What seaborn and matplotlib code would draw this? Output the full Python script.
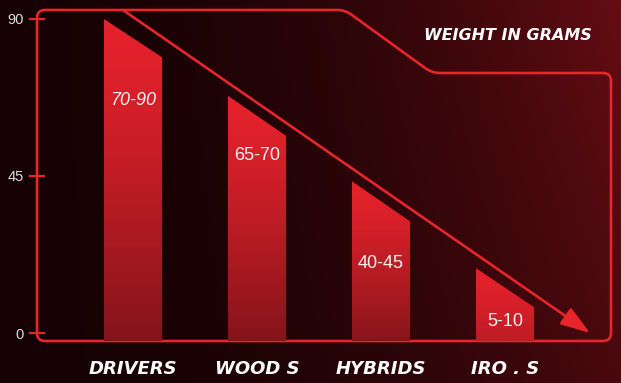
import numpy as np
import matplotlib
matplotlib.use("Agg")
import matplotlib.pyplot as plt
import seaborn as sns
import pandas as pd
from matplotlib.patches import Polygon, PathPatch
from matplotlib.path import Path

# ---------------- data ----------------
categories = ["DRIVERS", "WOOD S", "HYBRIDS", "IRO . S"]
bar_top_left = [90, 68, 43.5, 18.6]     # height of the tall (left) edge of each bar
bar_top_right = [79, 56.5, 32, 7.4]     # height of the cut (right) edge of each bar
range_labels = ["70-90", "65-70", "40-45", "5-10"]
y_ticks = [0, 45, 90]
title = "WEIGHT IN GRAMS"

# ---------------- style ----------------
sns.set_theme(style="white")
plt.rcParams["font.family"] = ["DejaVu Sans"]

RED = "#e8242c"
W, H = 621, 383
fig = plt.figure(figsize=(W / 100, H / 100), dpi=100)

# background gradient
bg = fig.add_axes([0, 0, 1, 1])
bg.set_axis_off()
xx = np.linspace(0, 1, 400)
yy = np.linspace(0, 1, 250)
X, Y = np.meshgrid(xx, yy)
f = X ** 2 * (1 - 0.35 * Y)
dark = np.array([22, 2, 4]) / 255
redbg = np.array([100, 13, 19]) / 255
img = dark + (redbg - dark) * f[..., None]
bg.imshow(img, extent=[0, 1, 0, 1], origin="upper", aspect="auto", zorder=0)
bg.set_xlim(0, 1)
bg.set_ylim(0, 1)


def rounded_path(pts, r):
    n = len(pts)
    verts, codes = [], []
    for i in range(n):
        p = np.array(pts[i], float)
        a = np.array(pts[i - 1], float)
        b = np.array(pts[(i + 1) % n], float)
        d1 = (a - p) / np.linalg.norm(a - p)
        d2 = (b - p) / np.linalg.norm(b - p)
        verts.append(p + d1 * r)
        codes.append(Path.MOVETO if i == 0 else Path.LINETO)
        verts += [p, p + d2 * r]
        codes += [Path.CURVE3, Path.CURVE3]
    verts.append(verts[0])
    codes.append(Path.CLOSEPOLY)
    verts = [(v[0] / W, 1 - v[1] / H) for v in verts]
    return Path(verts, codes)


frame_px = [(37, 10), (345, 10), (432, 73), (611, 73), (611, 341), (37, 341)]
bg.add_patch(PathPatch(rounded_path(frame_px, 8), facecolor="none",
                       edgecolor=RED, lw=1.9, zorder=3))

# main axes
ax = fig.add_axes([37 / W, 1 - 341 / H, 574 / W, 331 / H])
ax.patch.set_alpha(0)
df = pd.DataFrame({"category": categories, "height": bar_top_left})
sns.barplot(data=df, x="category", y="height", ax=ax, width=0.47,
            color=RED, zorder=2)
XL = (-0.774, 3.855)
YL = (-2.29, 92.55)
ax.set_xlim(*XL)
ax.set_ylim(*YL)

top_c = np.array([230, 34, 44]) / 255
bot_c = np.array([132, 20, 26]) / 255
for i, p in enumerate(list(ax.patches)):
    x0, w = p.get_x(), p.get_width()
    p.set_visible(False)
    tl, tr = bar_top_left[i], bar_top_right[i]
    ybot = YL[0]
    poly = Polygon([(x0, ybot), (x0, tl), (x0 + w, tr), (x0 + w, ybot)],
                   closed=True, facecolor="none", edgecolor="none")
    ax.add_patch(poly)
    k = min(1.0, tl / 45.0)
    bottom = top_c + (bot_c - top_c) * k
    t = np.linspace(0, 1, 200)[:, None] ** 1.3
    grad = (top_c + (bottom - top_c) * t)[:, None, :]
    im = ax.imshow(grad, extent=[x0, x0 + w, ybot, tl], origin="upper",
                   aspect="auto", zorder=2)
    im.set_clip_path(poly)

ax.set_xlim(*XL)
ax.set_ylim(*YL)

# range labels inside bars
label_y = [66.5, 51, 20, 3.4]
for i, lab in enumerate(range_labels):
    ax.text(i, label_y[i], lab, ha="center", va="center", color="#f2f2f2",
            fontsize=13, family="Liberation Sans",
            style="italic" if i == 0 else "normal", zorder=4)

# diagonal arrow
ax.annotate("", xy=(3.686, 0), xytext=(-0.081, YL[1]),
            arrowprops=dict(arrowstyle="-|>,head_length=1.5,head_width=0.5",
                            color=RED, lw=1.9, shrinkA=0, shrinkB=0),
            annotation_clip=False, zorder=3)

# axes styling
for s in ax.spines.values():
    s.set_visible(False)
ax.set_yticks(y_ticks)
ax.set_yticklabels([str(v) for v in y_ticks])
ax.tick_params(axis="y", direction="inout", length=11, width=1.5, color=RED,
               labelcolor="#dcdcdc", labelsize=10.5, pad=4, left=True)
for lab in ax.get_yticklabels():
    lab.set_fontfamily("Liberation Sans")
ax.tick_params(axis="x", length=0, pad=14, labelsize=13, labelcolor="white")
for lab in ax.get_xticklabels():
    lab.set_fontweight("bold")
    lab.set_fontstyle("italic")
ax.set_xlabel("")
ax.set_ylabel("")
ax.grid(False)

fig.text(508 / W, 1 - 35 / H, title, ha="center", va="center", color="white",
         fontsize=11.5, fontweight="bold", style="italic")

fig.savefig("out.png", dpi=100)
